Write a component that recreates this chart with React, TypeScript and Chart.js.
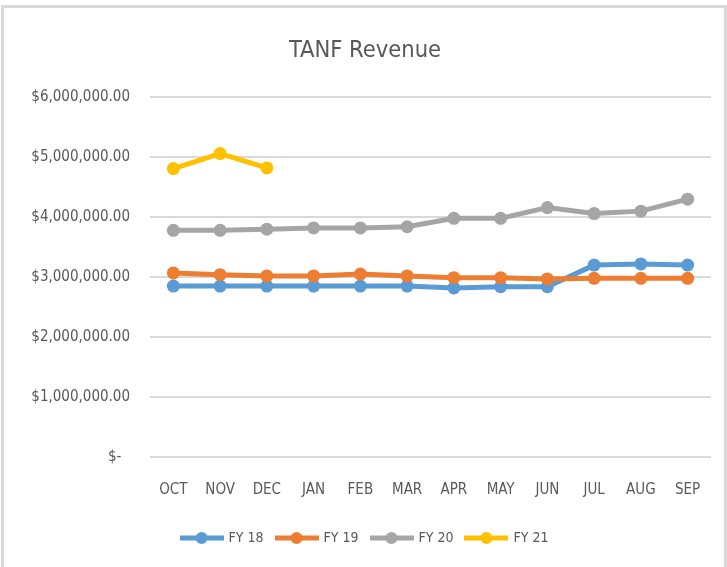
import React, { useEffect, useRef } from "react";
import { Chart, registerables } from "chart.js";

Chart.register(...registerables);

const months = ["OCT", "NOV", "DEC", "JAN", "FEB", "MAR", "APR", "MAY", "JUN", "JUL", "AUG", "SEP"];
const fy18 = [2850000, 2850000, 2850000, 2850000, 2850000, 2850000, 2820000, 2840000, 2840000, 3200000, 3220000, 3200000];
const fy19 = [3070000, 3040000, 3020000, 3020000, 3050000, 3020000, 2990000, 2990000, 2970000, 2980000, 2980000, 2980000];
const fy20 = [3780000, 3780000, 3800000, 3820000, 3820000, 3840000, 3980000, 3980000, 4160000, 4060000, 4100000, 4300000];
const fy21 = [4810000, 5060000, 4820000, null, null, null, null, null, null, null, null, null];
const seriesNames = ["FY 18", "FY 19", "FY 20", "FY 21"];
const seriesColors = ["#5B9BD5", "#ED7D31", "#A5A5A5", "#FFC000"];

const FONT = "'DejaVu Sans Condensed', 'Liberation Sans', sans-serif";
const TEXT = "#595959";

function legendMarker(color: string) {
  const c = document.createElement("canvas");
  c.width = 44;
  c.height = 14;
  const ctx = c.getContext("2d")!;
  ctx.strokeStyle = color;
  ctx.lineWidth = 5;
  ctx.beginPath();
  ctx.moveTo(0, 7);
  ctx.lineTo(44, 7);
  ctx.stroke();
  ctx.fillStyle = color;
  ctx.beginPath();
  ctx.arc(22, 7, 6, 0, Math.PI * 2);
  ctx.fill();
  return c;
}

export default function App() {
  const ref = useRef<HTMLCanvasElement | null>(null);
  useEffect(() => {
    if (!ref.current) return;
    const all = [fy18, fy19, fy20, fy21];
    const markers = seriesColors.map(legendMarker);
    const chart = new Chart(ref.current, {
      type: "line",
      data: {
        labels: months,
        datasets: all.map((d, i) => ({
          label: seriesNames[i],
          data: d,
          borderColor: seriesColors[i],
          backgroundColor: seriesColors[i],
          borderWidth: 5,
          pointRadius: 6.5,
          pointBorderWidth: 0,
          pointBackgroundColor: seriesColors[i],
          tension: 0,
          spanGaps: false,
          order: 4 - i,
        })),
      },
      options: {
        animation: false,
        responsive: false,
        layout: { padding: { top: 8, left: 19, right: 16, bottom: 12 } },
        plugins: {
          tooltip: { enabled: false },
          title: {
            display: true,
            text: "TANF Revenue",
            color: TEXT,
            font: { family: FONT, size: 23.5, weight: "normal" },
            padding: { top: 29, bottom: 32 },
          },
          legend: {
            position: "bottom",
            labels: {
              usePointStyle: true,
              pointStyleWidth: 40,
              boxHeight: 14,
              padding: 13,
              color: TEXT,
              font: { family: FONT, size: 14 },
              generateLabels: (ch: any) =>
                ch.data.datasets.map((ds: any, i: number) => ({
                  text: ds.label,
                  pointStyle: markers[i],
                  fillStyle: seriesColors[i],
                  strokeStyle: seriesColors[i],
                  lineWidth: 0,
                  hidden: false,
                  datasetIndex: i,
                  fontColor: TEXT,
                })),
            },
          },
        },
        scales: {
          x: {
            offset: true,
            grid: { display: false, drawTicks: false, offset: true },
            border: { display: false },
            ticks: { color: TEXT, font: { family: FONT, size: 15 }, padding: 24, maxRotation: 0, autoSkip: false },
            afterFit: (s: any) => {
              s.height = 61;
            },
          },
          y: {
            min: 0,
            max: 6000000,
            grid: { color: "#D9D9D9", lineWidth: 2, drawTicks: false },
            border: { display: false },
            ticks: {
              stepSize: 1000000,
              color: TEXT,
              padding: 20,
              font: { family: FONT, size: 15 },
              callback: (v: any) =>
                Number(v) === 0
                  ? "$-  "
                  : "$" + Number(v).toLocaleString("en-US", { minimumFractionDigits: 2, maximumFractionDigits: 2 }),
            },
            afterFit: (s: any) => {
              s.width = 131;
            },
          },
        },
      },
    });
    return () => chart.destroy();
  }, []);
  return (
    <div style={{ position: "fixed", left: 0, top: 0, width: 727, height: 567, background: "#fff", overflow: "hidden" }}>
      <div
        style={{
          position: "absolute",
          left: 1,
          top: 5,
          width: 720,
          height: 600,
          borderLeft: "3px solid #D9D9D9",
          borderTop: "3px solid #D9D9D9",
          borderRight: "3px solid #D9D9D9",
        }}
      />
      <canvas ref={ref} width={727} height={567} style={{ position: "absolute", left: 0, top: 0 }} />
    </div>
  );
}
